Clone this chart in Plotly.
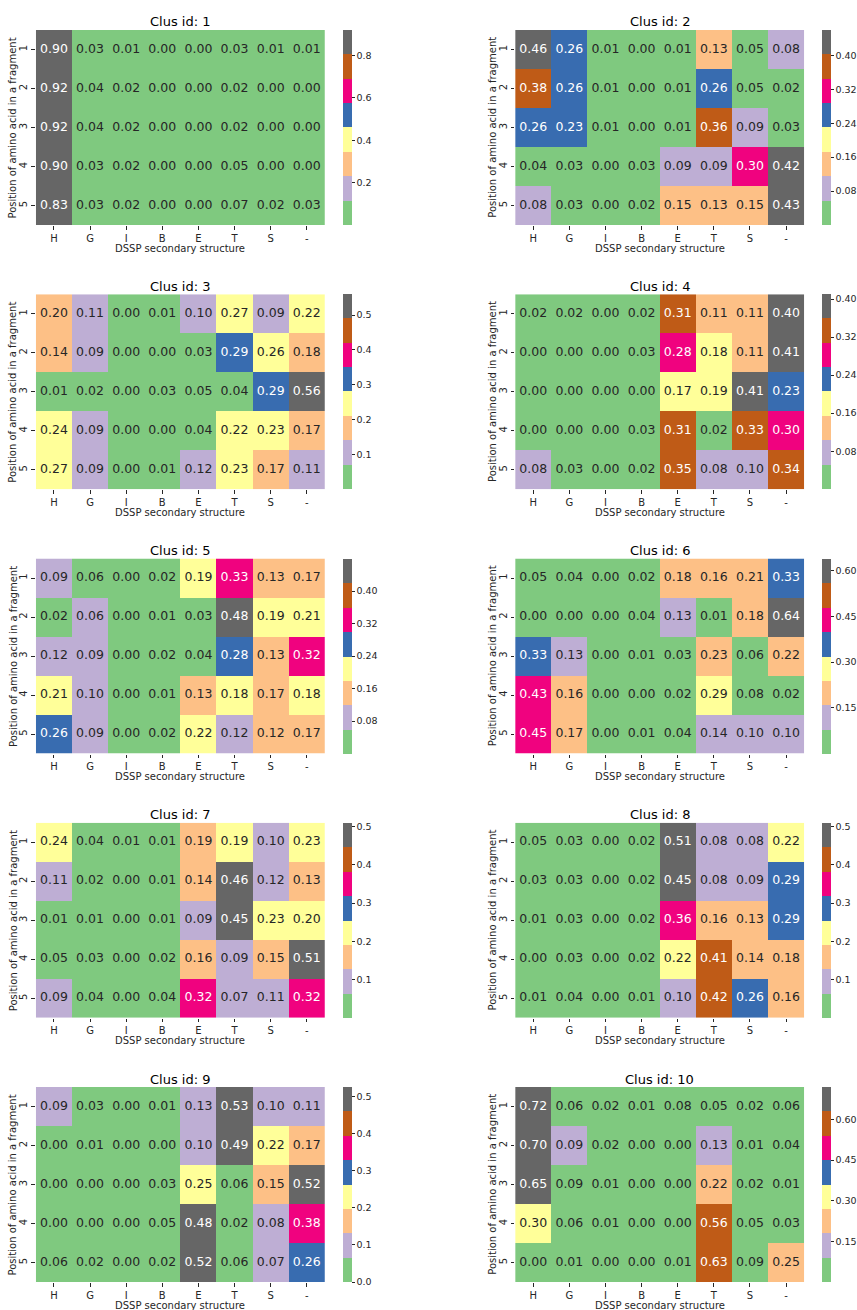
import plotly.graph_objects as go

# ---------------- data ----------------
structures = ['H', 'G', 'I', 'B', 'E', 'T', 'S', '-']
positions = ['1', '2', '3', '4', '5']
cluster_ids = [1, 2, 3, 4, 5, 6, 7, 8, 9, 10]

clus_1 = [[0.90, 0.03, 0.01, 0.00, 0.00, 0.03, 0.01, 0.01],
          [0.92, 0.04, 0.02, 0.00, 0.00, 0.02, 0.00, 0.00],
          [0.92, 0.04, 0.02, 0.00, 0.00, 0.02, 0.00, 0.00],
          [0.90, 0.03, 0.02, 0.00, 0.00, 0.05, 0.00, 0.00],
          [0.83, 0.03, 0.02, 0.00, 0.00, 0.07, 0.02, 0.03]]
clus_2 = [[0.46, 0.26, 0.01, 0.00, 0.01, 0.13, 0.05, 0.08],
          [0.38, 0.26, 0.01, 0.00, 0.01, 0.26, 0.05, 0.02],
          [0.26, 0.232, 0.01, 0.00, 0.01, 0.36, 0.09, 0.03],
          [0.04, 0.03, 0.00, 0.03, 0.09, 0.09, 0.30, 0.42],
          [0.08, 0.03, 0.00, 0.02, 0.15, 0.13, 0.15, 0.43]]
clus_3 = [[0.20, 0.11, 0.00, 0.01, 0.10, 0.27, 0.09, 0.22],
          [0.142, 0.09, 0.00, 0.00, 0.03, 0.29, 0.26, 0.18],
          [0.01, 0.02, 0.00, 0.03, 0.05, 0.04, 0.29, 0.56],
          [0.24, 0.09, 0.00, 0.00, 0.04, 0.22, 0.23, 0.17],
          [0.27, 0.09, 0.00, 0.01, 0.12, 0.23, 0.17, 0.11]]
clus_4 = [[0.02, 0.02, 0.00, 0.02, 0.31, 0.11, 0.11, 0.40],
          [0.00, 0.00, 0.00, 0.03, 0.28, 0.18, 0.11, 0.41],
          [0.00, 0.00, 0.00, 0.00, 0.17, 0.19, 0.41, 0.23],
          [0.00, 0.00, 0.00, 0.03, 0.31, 0.02, 0.33, 0.30],
          [0.08, 0.03, 0.00, 0.02, 0.35, 0.08, 0.10, 0.34]]
clus_5 = [[0.09, 0.058, 0.00, 0.02, 0.19, 0.33, 0.13, 0.17],
          [0.02, 0.062, 0.00, 0.01, 0.03, 0.48, 0.19, 0.21],
          [0.118, 0.09, 0.00, 0.02, 0.04, 0.28, 0.13, 0.32],
          [0.21, 0.10, 0.00, 0.01, 0.13, 0.182, 0.17, 0.182],
          [0.26, 0.09, 0.00, 0.02, 0.22, 0.118, 0.122, 0.17]]
clus_6 = [[0.05, 0.04, 0.00, 0.02, 0.18, 0.162, 0.21, 0.33],
          [0.00, 0.00, 0.00, 0.04, 0.13, 0.01, 0.18, 0.64],
          [0.33, 0.13, 0.00, 0.01, 0.03, 0.23, 0.06, 0.22],
          [0.43, 0.162, 0.00, 0.00, 0.02, 0.29, 0.078, 0.02],
          [0.45, 0.17, 0.00, 0.01, 0.04, 0.14, 0.10, 0.10]]
clus_7 = [[0.24, 0.04, 0.01, 0.01, 0.188, 0.192, 0.10, 0.23],
          [0.11, 0.02, 0.00, 0.01, 0.14, 0.46, 0.12, 0.13],
          [0.01, 0.01, 0.00, 0.01, 0.09, 0.45, 0.23, 0.20],
          [0.05, 0.03, 0.00, 0.02, 0.16, 0.09, 0.15, 0.51],
          [0.09, 0.04, 0.00, 0.04, 0.32, 0.07, 0.11, 0.32]]
clus_8 = [[0.05, 0.03, 0.00, 0.02, 0.51, 0.08, 0.08, 0.22],
          [0.03, 0.03, 0.00, 0.02, 0.45, 0.08, 0.09, 0.29],
          [0.01, 0.03, 0.00, 0.02, 0.36, 0.16, 0.13, 0.29],
          [0.00, 0.03, 0.00, 0.02, 0.22, 0.41, 0.14, 0.18],
          [0.01, 0.04, 0.00, 0.01, 0.10, 0.42, 0.26, 0.16]]
clus_9 = [[0.09, 0.03, 0.00, 0.01, 0.13, 0.526, 0.10, 0.11],
          [0.00, 0.01, 0.00, 0.00, 0.10, 0.49, 0.22, 0.17],
          [0.00, 0.00, 0.00, 0.03, 0.25, 0.06, 0.15, 0.52],
          [0.00, 0.00, 0.00, 0.05, 0.48, 0.02, 0.08, 0.38],
          [0.06, 0.02, 0.00, 0.02, 0.52, 0.06, 0.07, 0.264]]
clus_10 = [[0.72, 0.06, 0.02, 0.01, 0.08, 0.05, 0.02, 0.06],
           [0.70, 0.092, 0.02, 0.00, 0.00, 0.13, 0.01, 0.04],
           [0.65, 0.088, 0.01, 0.00, 0.00, 0.22, 0.02, 0.01],
           [0.30, 0.06, 0.01, 0.00, 0.00, 0.56, 0.05, 0.03],
           [0.00, 0.01, 0.00, 0.00, 0.01, 0.628, 0.088, 0.25]]

cbar_ticks_1 = [0.2, 0.4, 0.6, 0.8]
cbar_ticks_2 = [0.08, 0.16, 0.24, 0.32, 0.40]
cbar_ticks_3 = [0.1, 0.2, 0.3, 0.4, 0.5]
cbar_ticks_4 = [0.08, 0.16, 0.24, 0.32, 0.40]
cbar_ticks_5 = [0.08, 0.16, 0.24, 0.32, 0.40]
cbar_ticks_6 = [0.15, 0.30, 0.45, 0.60]
cbar_ticks_7 = [0.1, 0.2, 0.3, 0.4, 0.5]
cbar_ticks_8 = [0.1, 0.2, 0.3, 0.4, 0.5]
cbar_ticks_9 = [0.0, 0.1, 0.2, 0.3, 0.4, 0.5]
cbar_ticks_10 = [0.15, 0.30, 0.45, 0.60]

cbar_labels_1 = ['0.2', '0.4', '0.6', '0.8']
cbar_labels_2 = ['0.08', '0.16', '0.24', '0.32', '0.40']
cbar_labels_3 = ['0.1', '0.2', '0.3', '0.4', '0.5']
cbar_labels_4 = ['0.08', '0.16', '0.24', '0.32', '0.40']
cbar_labels_5 = ['0.08', '0.16', '0.24', '0.32', '0.40']
cbar_labels_6 = ['0.15', '0.30', '0.45', '0.60']
cbar_labels_7 = ['0.1', '0.2', '0.3', '0.4', '0.5']
cbar_labels_8 = ['0.1', '0.2', '0.3', '0.4', '0.5']
cbar_labels_9 = ['0.0', '0.1', '0.2', '0.3', '0.4', '0.5']
cbar_labels_10 = ['0.15', '0.30', '0.45', '0.60']

clusters = [clus_1, clus_2, clus_3, clus_4, clus_5, clus_6, clus_7, clus_8, clus_9, clus_10]
cbar_ticks = [cbar_ticks_1, cbar_ticks_2, cbar_ticks_3, cbar_ticks_4, cbar_ticks_5,
              cbar_ticks_6, cbar_ticks_7, cbar_ticks_8, cbar_ticks_9, cbar_ticks_10]
cbar_labels = [cbar_labels_1, cbar_labels_2, cbar_labels_3, cbar_labels_4, cbar_labels_5,
               cbar_labels_6, cbar_labels_7, cbar_labels_8, cbar_labels_9, cbar_labels_10]

# ---------------- style ----------------
accent = ['#7fc97f', '#beaed4', '#fdc086', '#ffff99',
          '#386cb0', '#f0027f', '#bf5b17', '#666666']
n_col = len(accent)
colorscale = []
for i, c in enumerate(accent):
    colorscale.append([i / n_col, c])
    colorscale.append([(i + 1) / n_col, c])

FONT = "DejaVu Sans, sans-serif"
DARK = '#262626'
W, H = 857, 1310
LEFTS = [36, 517]
HM_W = 290
HM_H = 195
TOP0 = 30
PITCH = 264.25
CB_X = [344, 825]


def luminance(hexc):
    r, g, b = [int(hexc[i:i + 2], 16) / 255 for i in (1, 3, 5)]
    def lin(c):
        return c / 12.92 if c <= 0.03928 else ((c + 0.055) / 1.055) ** 2.4
    return 0.2126 * lin(r) + 0.7152 * lin(g) + 0.0722 * lin(b)


fig = go.Figure()
annotations = []

for k, (cid, z) in enumerate(zip(cluster_ids, clusters)):
    r, c = divmod(k, 2)
    top = TOP0 + PITCH * r
    bottom = top + HM_H
    x0, x1 = LEFTS[c], LEFTS[c] + HM_W
    xd = [x0 / W, x1 / W]
    yd = [1 - bottom / H, 1 - top / H]
    ax_suffix = '' if k == 0 else str(k + 1)
    xref = 'x' + ax_suffix
    yref = 'y' + ax_suffix

    flat = [v for row in z for v in row]
    zmin, zmax = min(flat), max(flat)

    fig.add_trace(go.Heatmap(
        z=z, x=structures, y=positions, zmin=zmin, zmax=zmax,
        colorscale=colorscale, xaxis=xref, yaxis=yref, hoverinfo='skip',
        colorbar=dict(
            x=CB_X[c] / W, xanchor='left', xpad=0,
            y=1 - top / H, yanchor='top', ypad=0,
            len=HM_H, lenmode='pixels', thickness=9, thicknessmode='pixels',
            outlinewidth=0, tickmode='array', tickvals=cbar_ticks[k],
            ticktext=cbar_labels[k], ticks='outside', ticklen=3,
            tickcolor=DARK, tickfont=dict(family=FONT, size=9.5, color=DARK),
        ),
    ))

    # annotation text in cells
    tx, ty, tt, tc = [], [], [], []
    for i, row in enumerate(z):
        for j, v in enumerate(row):
            b = min(int((v - zmin) / (zmax - zmin) * n_col), n_col - 1)
            tx.append(structures[j])
            ty.append(positions[i])
            tt.append(f"{v:.2f}")
            tc.append(DARK if luminance(accent[b]) > 0.408 else '#ffffff')
    fig.add_trace(go.Scatter(
        x=tx, y=ty, text=tt, mode='text', xaxis=xref, yaxis=yref,
        textfont=dict(family=FONT, size=12.5, color=tc), hoverinfo='skip',
        showlegend=False, cliponaxis=False,
    ))

    axis_common = dict(showgrid=False, zeroline=False, showline=False,
                       ticks='outside', ticklen=3.5, tickcolor=DARK,
                       tickfont=dict(family=FONT, size=10, color=DARK),
                       type='category', fixedrange=True)
    fig.update_layout({
        'xaxis' + ax_suffix: dict(domain=xd, anchor=yref, **axis_common),
        'yaxis' + ax_suffix: dict(domain=yd, anchor=xref, autorange='reversed',
                                  tickangle=-90, **axis_common),
    })

    cx = (x0 + x1) / 2 / W
    annotations.append(dict(text=f"Clus id: {cid}", x=cx, y=1 - (top - 8) / H,
                            xref='paper', yref='paper', showarrow=False,
                            xanchor='center', yanchor='middle',
                            font=dict(family=FONT, size=13, color='#000000')))
    annotations.append(dict(text="DSSP secondary structure", x=cx, y=1 - (bottom + 23) / H,
                            xref='paper', yref='paper', showarrow=False,
                            xanchor='center', yanchor='middle',
                            font=dict(family=FONT, size=10, color=DARK)))
    annotations.append(dict(text="Position of amino acid in a fragment",
                            x=(x0 - 23) / W, y=1 - (top + HM_H / 2) / H,
                            xref='paper', yref='paper', showarrow=False, textangle=-90,
                            xanchor='center', yanchor='middle',
                            font=dict(family=FONT, size=10, color=DARK)))

fig.update_layout(
    width=W, height=H, margin=dict(l=0, r=0, t=0, b=0),
    paper_bgcolor='white', plot_bgcolor='white', showlegend=False,
    annotations=annotations, font=dict(family=FONT, color=DARK),
)

fig.write_html("out.html", config={'displayModeBar': False},
               post_script="document.body.style.margin='0';")
